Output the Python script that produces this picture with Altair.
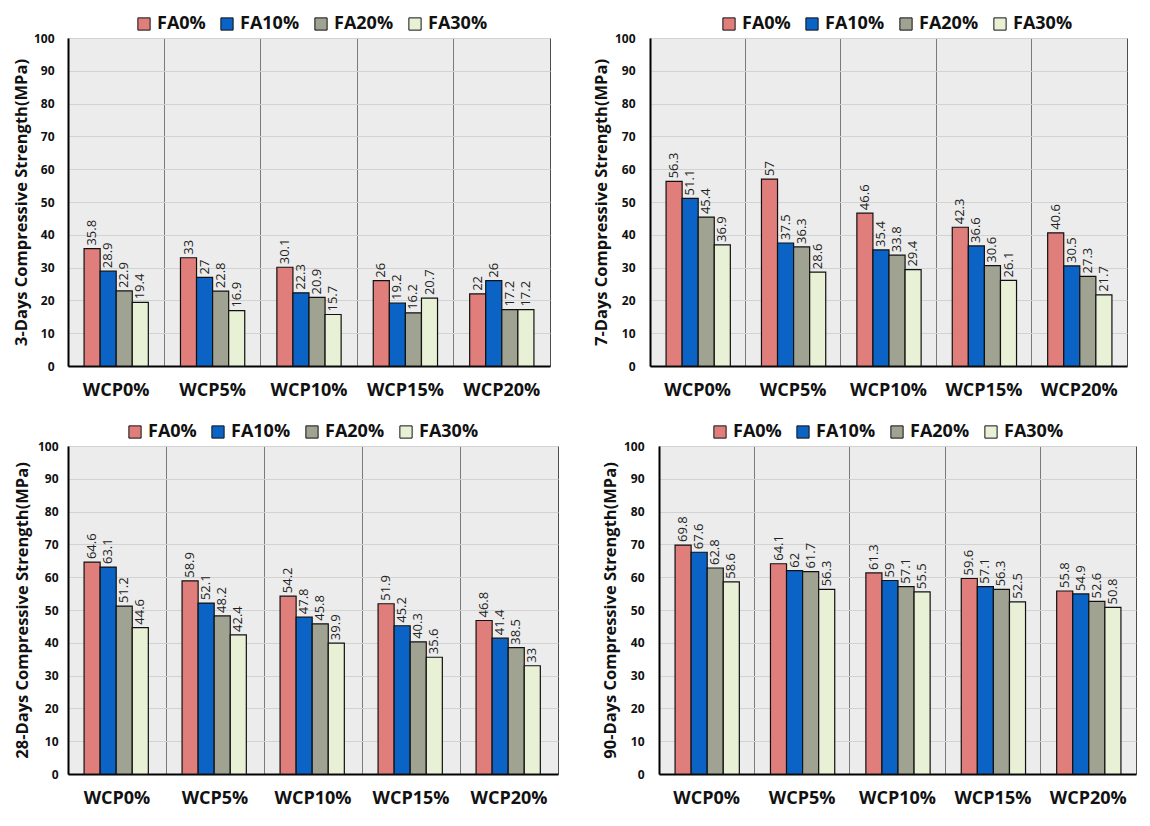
import altair as alt
import pandas as pd

categories = ["WCP0%", "WCP5%", "WCP10%", "WCP15%", "WCP20%"]
series = ["FA0%", "FA10%", "FA20%", "FA30%"]

# values per series, in category order
d3_fa0 = [35.8, 33, 30.1, 26, 22]
d3_fa10 = [28.9, 27, 22.3, 19.2, 26]
d3_fa20 = [22.9, 22.8, 20.9, 16.2, 17.2]
d3_fa30 = [19.4, 16.9, 15.7, 20.7, 17.2]

d7_fa0 = [56.3, 57, 46.6, 42.3, 40.6]
d7_fa10 = [51.1, 37.5, 35.4, 36.6, 30.5]
d7_fa20 = [45.4, 36.3, 33.8, 30.6, 27.3]
d7_fa30 = [36.9, 28.6, 29.4, 26.1, 21.7]

d28_fa0 = [64.6, 58.9, 54.2, 51.9, 46.8]
d28_fa10 = [63.1, 52.1, 47.8, 45.2, 41.4]
d28_fa20 = [51.2, 48.2, 45.8, 40.3, 38.5]
d28_fa30 = [44.6, 42.4, 39.9, 35.6, 33]

d90_fa0 = [69.8, 64.1, 61.3, 59.6, 55.8]
d90_fa10 = [67.6, 62, 59, 57.1, 54.9]
d90_fa20 = [62.8, 61.7, 57.1, 56.3, 52.6]
d90_fa30 = [58.6, 56.3, 55.5, 52.5, 50.8]

titles = [
    "3-Days Compressive Strength(MPa)",
    "7-Days Compressive Strength(MPa)",
    "28-Days Compressive Strength(MPa)",
    "90-Days Compressive Strength(MPa)",
]

colors = ["#e07e7c", "#0b63c5", "#a0a391", "#e8f1d6"]
FONT = "Open Sans"


def make_df(s0, s1, s2, s3):
    rows = []
    for name, vals in zip(series, [s0, s1, s2, s3]):
        for c, v in zip(categories, vals):
            rows.append({"wcp": c, "fa": name, "v": v, "lbl": f"{v:g}"})
    return pd.DataFrame(rows)


def panel(df, title, w, h, legend_x, lab_pad, title_pad):
    base = alt.Chart(df).encode(
        x=alt.X(
            "wcp:N",
            sort=categories,
            scale=alt.Scale(paddingInner=0, paddingOuter=0),
            axis=alt.Axis(
                title=None,
                labelAngle=0,
                grid=True,
                bandPosition=0,
                gridColor="#7a7a7a",
                gridWidth=1,
                ticks=False,
                domainColor="#000000",
                domainWidth=2,
                labelFont=FONT,
                labelFontSize=18,
                labelFontWeight="bold",
                labelColor="#111111",
                labelPadding=15,
            ),
        ),
        xOffset=alt.XOffset(
            "fa:N", sort=series, scale=alt.Scale(paddingOuter=1, paddingInner=0)
        ),
        y=alt.Y(
            "v:Q",
            scale=alt.Scale(domain=[0, 100], nice=False),
            axis=alt.Axis(
                title=title,
                values=list(range(0, 101, 10)),
                gridColor="#d2d2d2",
                gridWidth=1,
                ticks=False,
                domainColor="#000000",
                domainWidth=2,
                labelFont=FONT,
                labelFontSize=12,
                labelFontWeight="bold",
                labelColor="#111111",
                labelPadding=lab_pad,
                titleFont=FONT,
                titleFontSize=16.5,
                titleFontWeight="bold",
                titleColor="#111111",
                titlePadding=title_pad,
            ),
        ),
    )
    bars = base.mark_bar(stroke="#111111", strokeWidth=1.2).encode(
        color=alt.Color(
            "fa:N",
            sort=series,
            scale=alt.Scale(domain=series, range=colors),
            legend=alt.Legend(
                title=None,
                orient="none",
                direction="horizontal",
                legendX=legend_x,
                legendY=-23,
                symbolType="square",
                symbolSize=150,
                symbolStrokeColor="#111111",
                symbolStrokeWidth=1,
                labelFont=FONT,
                labelFontSize=18,
                labelFontWeight="bold",
                labelColor="#111111",
                labelOffset=4,
                columnPadding=12,
            ),
        )
    )
    text = base.mark_text(
        angle=270, align="left", baseline="middle", dx=3, fontSize=13, font=FONT,
        color="#222222",
    ).encode(text="lbl:N")
    return alt.layer(bars, text).properties(
        width=w, height=h,
        view=alt.ViewBackground(fill="#ececec", stroke="#4d4d4d", strokeWidth=1),
    )


p1 = panel(make_df(d3_fa0, d3_fa10, d3_fa20, d3_fa30), titles[0], 482, 328, 67, 14, 4)
p2 = panel(make_df(d7_fa0, d7_fa10, d7_fa20, d7_fa30), titles[1], 477, 328, 70, 15, 5)
p3 = panel(make_df(d28_fa0, d28_fa10, d28_fa20, d28_fa30), titles[2], 490, 328, 58, 10, 7)
p4 = panel(make_df(d90_fa0, d90_fa10, d90_fa20, d90_fa30), titles[3], 477, 328, 52, 15, 5)

row1 = (
    alt.hconcat(p1, p2, spacing=41)
    .resolve_scale(color="independent")
    .resolve_legend(color="independent")
)
row2 = (
    alt.hconcat(p3, p4, spacing=42)
    .resolve_scale(color="independent")
    .resolve_legend(color="independent")
)

chart = (
    alt.vconcat(row1, row2, spacing=22)
    .resolve_scale(color="independent")
    .resolve_legend(color="independent")
    .properties(padding={"left": 4, "top": 6, "right": 0, "bottom": 0})
    .configure_view(fill="#ececec", stroke="#4d4d4d", strokeWidth=1)
    .configure(background="white")
)

chart.save("out.html", embed_options={"renderer": "svg", "actions": False})
